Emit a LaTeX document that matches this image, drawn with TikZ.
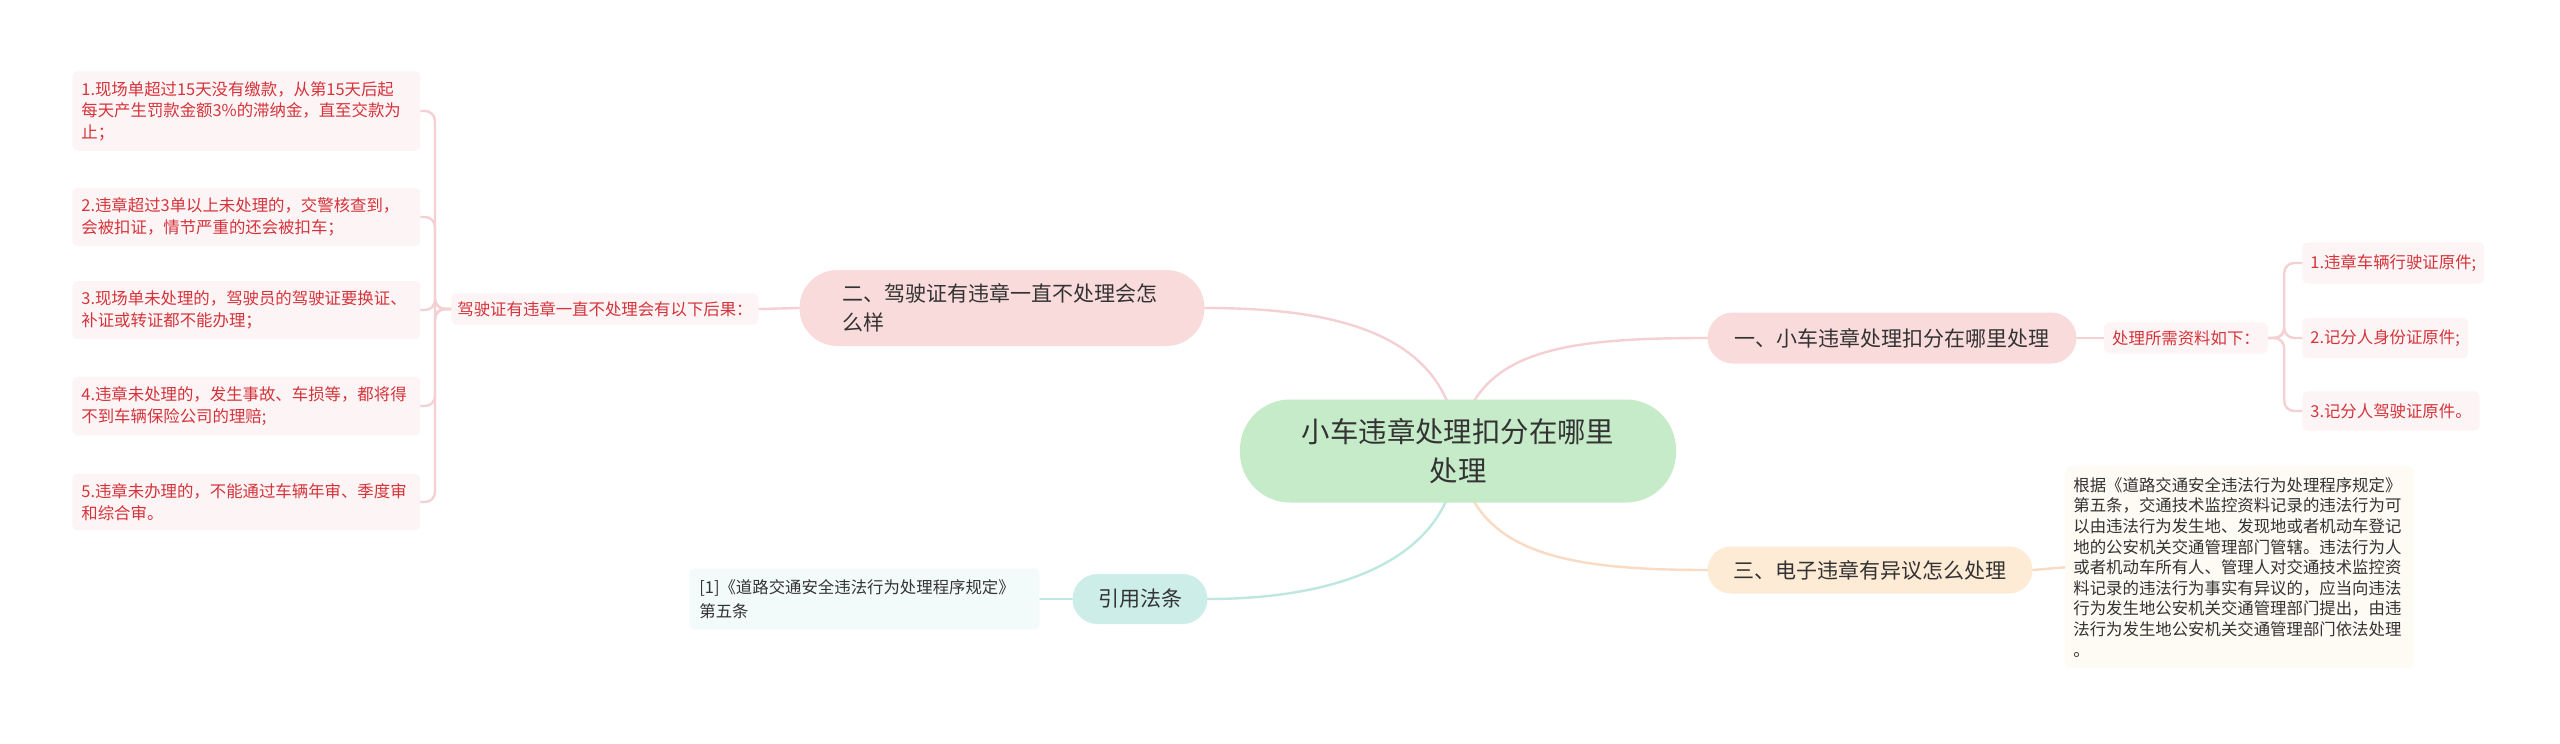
\documentclass[tikz,border=0pt]{standalone}
\usepackage{fontspec}
\setmainfont{Noto Sans CJK SC}
\usetikzlibrary{backgrounds}
\definecolor{rootfill}{HTML}{C6EBC9}
\definecolor{pinkfill}{HTML}{FADBDB}
\definecolor{orangefill}{HTML}{FDEBD6}
\definecolor{tealfill}{HTML}{CDEEE8}
\definecolor{pinkleaf}{HTML}{FDF5F5}
\definecolor{orangeleaf}{HTML}{FEFAF4}
\definecolor{tealleaf}{HTML}{F3FBFA}
\definecolor{redtext}{HTML}{D5333B}
\definecolor{darktext}{HTML}{333333}
\definecolor{pinkline}{HTML}{F5D0D3}
\definecolor{orangeline}{HTML}{F9DAC2}
\definecolor{tealline}{HTML}{BDE7DF}
\begin{document}
\begin{tikzpicture}[x=0.5pt,y=-0.5pt,
  rootbox/.style={fill=rootfill, rounded corners=25pt, minimum width=218pt, minimum height=51.5pt,
    align=center, text=darktext, font=\fontsize{14.2}{19.5}\selectfont, inner sep=0pt},
  branchbox/.style={rounded corners=#1, minimum height=2*#1, text=darktext,
    font=\fontsize{10.5}{14.5}\selectfont, inner sep=0pt},
  leafred/.style={fill=pinkleaf, rounded corners=2.5pt, text=redtext, align=left,
    font=\fontsize{8.2}{10.75}\selectfont, inner xsep=4.5pt, inner ysep=5pt},
  leafgray/.style={rounded corners=2.5pt, text=darktext, align=left,
    font=\fontsize{8.2}{10.3}\selectfont, inner xsep=4pt, inner ysep=5.5pt},
  conn/.style={line width=1.2pt, line cap=round},
]
\useasboundingbox (0,0) rectangle (2560,744);

% root
\node[rootbox] (c) at (1458,451) {小车违章处理扣分在哪里\\处理};

% branches
\node[branchbox=19pt, fill=pinkfill, minimum width=202.5pt, text width=160pt, align=left] (b2) at (1002,308) {二、驾驶证有违章一直不处理会怎\\么样};
\node[branchbox=12.75pt, fill=pinkfill, minimum width=184.5pt, align=center] (b1) at (1892,338) {一、小车违章处理扣分在哪里处理};
\node[branchbox=11.75pt, fill=orangefill, minimum width=162.5pt, align=center] (b3) at (1870,570) {三、电子违章有异议怎么处理};
\node[branchbox=12.5pt, fill=tealfill, minimum width=67.5pt, align=center] (bq) at (1140,599) {引用法条};

% left labels and leaves
\node[leafred, inner xsep=3pt, inner ysep=4pt, anchor=center] (l2) at (605,309) {驾驶证有违章一直不处理会有以下后果：};
\node[leafred, text width=165pt, anchor=west] (a1) at (72,111) {1.现场单超过15天没有缴款，从第15天后起\\每天产生罚款金额3\%的滞纳金，直至交款为\\止；};
\node[leafred, text width=165pt, anchor=west] (a2) at (72,217) {2.违章超过3单以上未处理的，交警核查到，\\会被扣证，情节严重的还会被扣车；};
\node[leafred, text width=165pt, anchor=west] (a3) at (72,310) {3.现场单未处理的，驾驶员的驾驶证要换证、\\补证或转证都不能办理；};
\node[leafred, text width=165pt, anchor=west] (a4) at (72,406) {4.违章未处理的，发生事故、车损等，都将得\\不到车辆保险公司的理赔;};
\node[leafred, text width=165pt, anchor=west] (a5) at (72,502) {5.违章未办理的，不能通过车辆年审、季度审\\和综合审。};

% right label and leaves
\node[leafred, inner xsep=4pt, inner ysep=4pt, anchor=center] (l1) at (2186,338) {处理所需资料如下：};
\node[leafred, inner xsep=4pt, inner ysep=6pt, anchor=west] (r1) at (2302,263) {1.违章车辆行驶证原件;};
\node[leafred, inner xsep=4pt, inner ysep=6pt, anchor=west] (r2) at (2302,338) {2.记分人身份证原件;};
\node[leafred, inner xsep=4pt, inner ysep=6pt, anchor=west] (r3) at (2302,411) {3.记分人驾驶证原件。};

% branch 3 leaf
\node[leafgray, fill=orangeleaf, text width=166pt, anchor=north west] (t3) at (2065,466) {根据《道路交通安全违法行为处理程序规定》\\第五条，交通技术监控资料记录的违法行为可\\以由违法行为发生地、发现地或者机动车登记\\地的公安机关交通管理部门管辖。违法行为人\\或者机动车所有人、管理人对交通技术监控资\\料记录的违法行为事实有异议的，应当向违法\\行为发生地公安机关交通管理部门提出，由违\\法行为发生地公安机关交通管理部门依法处理\\。};

% quote leaf
\node[leafgray, fill=tealleaf, text width=165pt, inner xsep=5pt, font=\fontsize{8.2}{11.8}\selectfont, anchor=west] (tq) at (689,599) {[1]《道路交通安全违法行为处理程序规定》\\第五条};

\begin{scope}[on background layer]
  \fill[white] (0,0) rectangle (2560,744);
  % root to branches
  \draw[conn, pinkline] (c.center) .. controls (1452,330) and (1330,308) .. (b2.east);
  \draw[conn, pinkline] (c.center) .. controls (1470,350) and (1560,338) .. (b1.west);
  \draw[conn, orangeline] (c.center) .. controls (1470,552) and (1560,570) .. (b3.west);
  \draw[conn, tealline] (c.center) .. controls (1452,565) and (1330,599) .. (bq.east);
  % branch 2
  \draw[conn, pinkline] (b2.west) -- (l2.east);
  \foreach \n in {a1,a2,a3,a4,a5}
    \draw[conn, pinkline, rounded corners=5pt] (l2.west) -- ++(-16,0) |- (\n.east);
  % branch 1
  \draw[conn, pinkline] (b1.east) -- (l1.west);
  \foreach \n in {r1,r2,r3}
    \draw[conn, pinkline, rounded corners=5pt] (l1.east) -- ++(16,0) |- (\n.west);
  % branch 3
  \draw[conn, orangeline] (b3.east) -- (t3.west);
  % quote
  \draw[conn, tealline] (bq.west) -- (tq.east);
\end{scope}
\end{tikzpicture}
\end{document}
